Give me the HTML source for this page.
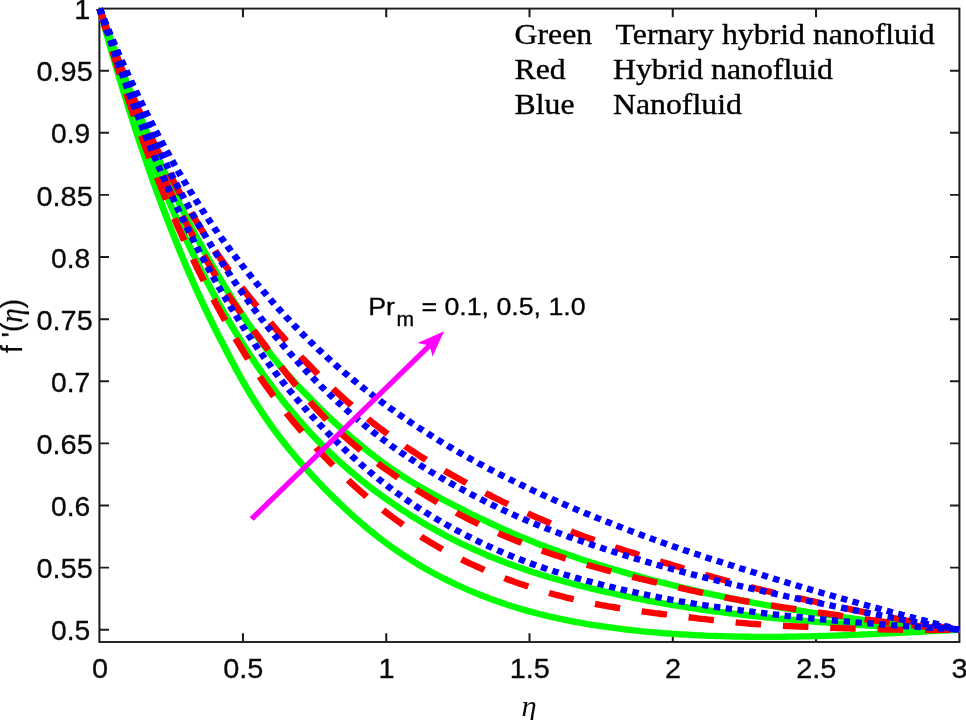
<!DOCTYPE html>
<html lang="en"><head><meta charset="utf-8"><title>f'(η) profiles</title>
<style>html,body{margin:0;padding:0;background:#fff}body{width:966px;height:720px;overflow:hidden}</style></head>
<body>
<svg width="966" height="720" viewBox="0 0 966 720" style="display:block">
<rect width="966" height="720" fill="#fff"/>
<g transform="scale(1.07,1)">
<g stroke="#1c1c1c" stroke-width="1.9" fill="none">
<rect x="92.90" y="8.6" width="803.74" height="633.4"/>
<path d="M227.07,642.0 v-8.7 M227.07,8.6 v8.7"/>
<path d="M360.97,642.0 v-8.7 M360.97,8.6 v8.7"/>
<path d="M494.86,642.0 v-8.7 M494.86,8.6 v8.7"/>
<path d="M628.75,642.0 v-8.7 M628.75,8.6 v8.7"/>
<path d="M762.65,642.0 v-8.7 M762.65,8.6 v8.7"/>
<path d="M93.18,629.7 h8.7 M896.54,629.7 h-8.7"/>
<path d="M93.18,567.6 h8.7 M896.54,567.6 h-8.7"/>
<path d="M93.18,505.5 h8.7 M896.54,505.5 h-8.7"/>
<path d="M93.18,443.4 h8.7 M896.54,443.4 h-8.7"/>
<path d="M93.18,381.3 h8.7 M896.54,381.3 h-8.7"/>
<path d="M93.18,319.2 h8.7 M896.54,319.2 h-8.7"/>
<path d="M93.18,257.0 h8.7 M896.54,257.0 h-8.7"/>
<path d="M93.18,194.9 h8.7 M896.54,194.9 h-8.7"/>
<path d="M93.18,132.8 h8.7 M896.54,132.8 h-8.7"/>
<path d="M93.18,70.7 h8.7 M896.54,70.7 h-8.7"/>
</g>
<g fill="none" stroke-linecap="butt" stroke-linejoin="round">
<path d="M93.18,8.6 L96.52,21.7 L99.87,34.5 L103.22,47.1 L106.57,59.5 L109.91,71.7 L113.26,83.6 L116.61,95.4 L119.96,106.9 L123.30,118.2 L126.65,129.3 L130.00,140.2 L133.35,150.9 L136.69,161.4 L140.04,171.8 L143.39,181.9 L146.74,191.8 L150.08,201.6 L153.43,211.1 L156.78,220.5 L160.12,229.7 L163.47,238.7 L166.82,247.6 L170.17,256.3 L173.51,264.8 L176.86,273.2 L180.21,281.4 L183.56,289.4 L186.90,297.3 L190.25,305.0 L193.60,312.6 L196.95,319.9 L200.29,327.2 L203.64,334.3 L206.99,341.3 L210.33,348.2 L213.68,355.1 L217.03,361.9 L220.38,368.6 L223.72,375.1 L227.07,381.5 L230.42,387.7 L233.77,393.7 L237.11,399.6 L240.46,405.2 L243.81,410.7 L247.16,416.1 L250.50,421.3 L253.85,426.3 L257.20,431.2 L260.55,436.0 L263.89,440.6 L267.24,445.2 L270.59,449.6 L273.93,453.9 L277.28,458.2 L280.63,462.3 L283.98,466.4 L287.32,470.3 L290.67,474.2 L294.02,478.1 L297.37,481.9 L300.71,485.6 L304.06,489.3 L307.41,492.9 L310.76,496.5 L314.10,500.0 L317.45,503.5 L320.80,506.9 L324.14,510.2 L327.49,513.5 L330.84,516.8 L334.19,519.9 L337.53,523.0 L340.88,526.1 L344.23,529.1 L347.58,532.0 L350.92,534.9 L354.27,537.7 L357.62,540.4 L360.97,543.1 L364.31,545.7 L367.66,548.3 L371.01,550.8 L374.36,553.2 L377.70,555.6 L381.05,557.9 L384.40,560.2 L387.74,562.4 L391.09,564.6 L394.44,566.7 L397.79,568.8 L401.13,570.8 L404.48,572.7 L407.83,574.7 L411.18,576.5 L414.52,578.4 L417.87,580.2 L421.22,581.9 L424.57,583.6 L427.91,585.3 L431.26,586.9 L434.61,588.5 L437.95,590.1 L441.30,591.6 L444.65,593.1 L448.00,594.5 L451.34,596.0 L454.69,597.3 L458.04,598.7 L461.39,600.0 L464.73,601.3 L468.08,602.5 L471.43,603.8 L474.78,604.9 L478.12,606.1 L481.47,607.2 L484.82,608.3 L488.17,609.4 L491.51,610.4 L494.86,611.4 L498.21,612.4 L501.55,613.3 L504.90,614.2 L508.25,615.1 L511.60,616.0 L514.94,616.8 L518.29,617.6 L521.64,618.4 L524.99,619.2 L528.33,619.9 L531.68,620.7 L535.03,621.4 L538.38,622.0 L541.72,622.7 L545.07,623.3 L548.42,623.9 L551.76,624.5 L555.11,625.1 L558.46,625.7 L561.81,626.2 L565.15,626.7 L568.50,627.2 L571.85,627.7 L575.20,628.2 L578.54,628.6 L581.89,629.1 L585.24,629.5 L588.59,629.9 L591.93,630.3 L595.28,630.7 L598.63,631.1 L601.98,631.4 L605.32,631.8 L608.67,632.1 L612.02,632.4 L615.36,632.7 L618.71,633.0 L622.06,633.3 L625.41,633.5 L628.75,633.8 L632.10,634.0 L635.45,634.3 L638.80,634.5 L642.14,634.7 L645.49,634.9 L648.84,635.1 L652.19,635.3 L655.53,635.4 L658.88,635.6 L662.23,635.8 L665.57,635.9 L668.92,636.0 L672.27,636.1 L675.62,636.2 L678.96,636.3 L682.31,636.4 L685.66,636.5 L689.01,636.6 L692.35,636.6 L695.70,636.7 L699.05,636.7 L702.40,636.8 L705.74,636.8 L709.09,636.8 L712.44,636.8 L715.79,636.8 L719.13,636.8 L722.48,636.8 L725.83,636.8 L729.17,636.8 L732.52,636.7 L735.87,636.7 L739.22,636.6 L742.56,636.6 L745.91,636.5 L749.26,636.4 L752.61,636.4 L755.95,636.3 L759.30,636.2 L762.65,636.1 L766.00,636.0 L769.34,635.9 L772.69,635.8 L776.04,635.7 L779.38,635.6 L782.73,635.5 L786.08,635.3 L789.43,635.2 L792.77,635.1 L796.12,634.9 L799.47,634.8 L802.82,634.7 L806.16,634.5 L809.51,634.4 L812.86,634.2 L816.21,634.1 L819.55,633.9 L822.90,633.7 L826.25,633.6 L829.60,633.4 L832.94,633.2 L836.29,633.1 L839.64,632.9 L842.98,632.7 L846.33,632.5 L849.68,632.4 L853.03,632.2 L856.37,632.0 L859.72,631.8 L863.07,631.6 L866.42,631.4 L869.76,631.2 L873.11,631.0 L876.46,630.9 L879.81,630.7 L883.15,630.5 L886.50,630.3 L889.85,630.1 L893.19,629.9 L896.54,629.7" stroke="#00ff00" stroke-width="6.35"/>
<path d="M93.18,8.6 L96.52,20.2 L99.87,31.6 L103.22,42.8 L106.57,53.8 L109.91,64.6 L113.26,75.3 L116.61,85.8 L119.96,96.1 L123.30,106.2 L126.65,116.1 L130.00,125.9 L133.35,135.5 L136.69,145.0 L140.04,154.2 L143.39,163.3 L146.74,172.3 L150.08,181.1 L153.43,189.7 L156.78,198.2 L160.12,206.5 L163.47,214.7 L166.82,222.7 L170.17,230.6 L173.51,238.3 L176.86,245.9 L180.21,253.4 L183.56,260.7 L186.90,267.9 L190.25,274.9 L193.60,281.9 L196.95,288.6 L200.29,295.3 L203.64,301.8 L206.99,308.2 L210.33,314.5 L213.68,320.7 L217.03,326.7 L220.38,332.7 L223.72,338.5 L227.07,344.2 L230.42,349.8 L233.77,355.3 L237.11,360.7 L240.46,366.0 L243.81,371.1 L247.16,376.2 L250.50,381.2 L253.85,386.0 L257.20,390.8 L260.55,395.5 L263.89,400.1 L267.24,404.6 L270.59,409.0 L273.93,413.3 L277.28,417.5 L280.63,421.6 L283.98,425.7 L287.32,429.6 L290.67,433.5 L294.02,437.3 L297.37,441.0 L300.71,444.7 L304.06,448.2 L307.41,451.7 L310.76,455.1 L314.10,458.5 L317.45,461.7 L320.80,465.0 L324.14,468.1 L327.49,471.2 L330.84,474.2 L334.19,477.2 L337.53,480.1 L340.88,482.9 L344.23,485.7 L347.58,488.5 L350.92,491.2 L354.27,493.8 L357.62,496.4 L360.97,499.0 L364.31,501.5 L367.66,504.0 L371.01,506.4 L374.36,508.8 L377.70,511.2 L381.05,513.5 L384.40,515.8 L387.74,518.0 L391.09,520.2 L394.44,522.4 L397.79,524.5 L401.13,526.6 L404.48,528.6 L407.83,530.6 L411.18,532.6 L414.52,534.5 L417.87,536.4 L421.22,538.3 L424.57,540.1 L427.91,541.9 L431.26,543.7 L434.61,545.4 L437.95,547.0 L441.30,548.7 L444.65,550.3 L448.00,551.9 L451.34,553.4 L454.69,555.0 L458.04,556.5 L461.39,557.9 L464.73,559.3 L468.08,560.7 L471.43,562.1 L474.78,563.5 L478.12,564.8 L481.47,566.1 L484.82,567.3 L488.17,568.6 L491.51,569.8 L494.86,571.0 L498.21,572.2 L501.55,573.3 L504.90,574.5 L508.25,575.6 L511.60,576.6 L514.94,577.7 L518.29,578.8 L521.64,579.8 L524.99,580.8 L528.33,581.8 L531.68,582.8 L535.03,583.7 L538.38,584.7 L541.72,585.6 L545.07,586.5 L548.42,587.4 L551.76,588.3 L555.11,589.1 L558.46,590.0 L561.81,590.8 L565.15,591.6 L568.50,592.4 L571.85,593.2 L575.20,594.0 L578.54,594.8 L581.89,595.6 L585.24,596.3 L588.59,597.0 L591.93,597.8 L595.28,598.5 L598.63,599.2 L601.98,599.9 L605.32,600.6 L608.67,601.2 L612.02,601.9 L615.36,602.5 L618.71,603.2 L622.06,603.8 L625.41,604.4 L628.75,605.0 L632.10,605.6 L635.45,606.2 L638.80,606.7 L642.14,607.3 L645.49,607.9 L648.84,608.4 L652.19,608.9 L655.53,609.5 L658.88,610.0 L662.23,610.5 L665.57,611.0 L668.92,611.5 L672.27,611.9 L675.62,612.4 L678.96,612.9 L682.31,613.3 L685.66,613.7 L689.01,614.2 L692.35,614.6 L695.70,615.0 L699.05,615.4 L702.40,615.8 L705.74,616.2 L709.09,616.6 L712.44,616.9 L715.79,617.3 L719.13,617.7 L722.48,618.0 L725.83,618.4 L729.17,618.7 L732.52,619.0 L735.87,619.4 L739.22,619.7 L742.56,620.0 L745.91,620.3 L749.26,620.6 L752.61,620.9 L755.95,621.2 L759.30,621.5 L762.65,621.8 L766.00,622.1 L769.34,622.4 L772.69,622.7 L776.04,622.9 L779.38,623.2 L782.73,623.5 L786.08,623.7 L789.43,624.0 L792.77,624.3 L796.12,624.5 L799.47,624.8 L802.82,625.0 L806.16,625.2 L809.51,625.5 L812.86,625.7 L816.21,625.9 L819.55,626.2 L822.90,626.4 L826.25,626.6 L829.60,626.8 L832.94,627.0 L836.29,627.2 L839.64,627.4 L842.98,627.6 L846.33,627.8 L849.68,627.9 L853.03,628.1 L856.37,628.3 L859.72,628.4 L863.07,628.6 L866.42,628.7 L869.76,628.8 L873.11,629.0 L876.46,629.1 L879.81,629.2 L883.15,629.3 L886.50,629.4 L889.85,629.5 L893.19,629.6 L896.54,629.7" stroke="#00ff00" stroke-width="6.35"/>
<path d="M93.18,8.6 L96.52,18.9 L99.87,29.0 L103.22,39.0 L106.57,48.8 L109.91,58.5 L113.26,68.0 L116.61,77.4 L119.96,86.7 L123.30,95.8 L126.65,104.7 L130.00,113.6 L133.35,122.3 L136.69,130.8 L140.04,139.2 L143.39,147.5 L146.74,155.6 L150.08,163.6 L153.43,171.5 L156.78,179.3 L160.12,186.9 L163.47,194.4 L166.82,201.8 L170.17,209.0 L173.51,216.2 L176.86,223.2 L180.21,230.1 L183.56,236.8 L186.90,243.5 L190.25,250.0 L193.60,256.5 L196.95,262.7 L200.29,268.9 L203.64,275.0 L206.99,281.0 L210.33,287.0 L213.68,292.9 L217.03,298.8 L220.38,304.5 L223.72,310.2 L227.07,315.8 L230.42,321.2 L233.77,326.5 L237.11,331.6 L240.46,336.6 L243.81,341.5 L247.16,346.3 L250.50,350.9 L253.85,355.4 L257.20,359.9 L260.55,364.2 L263.89,368.4 L267.24,372.5 L270.59,376.6 L273.93,380.6 L277.28,384.5 L280.63,388.3 L283.98,392.0 L287.32,395.7 L290.67,399.4 L294.02,403.0 L297.37,406.6 L300.71,410.1 L304.06,413.6 L307.41,417.0 L310.76,420.4 L314.10,423.7 L317.45,427.0 L320.80,430.2 L324.14,433.4 L327.49,436.6 L330.84,439.6 L334.19,442.7 L337.53,445.7 L340.88,448.6 L344.23,451.5 L347.58,454.3 L350.92,457.1 L354.27,459.8 L357.62,462.4 L360.97,465.0 L364.31,467.5 L367.66,470.0 L371.01,472.4 L374.36,474.8 L377.70,477.1 L381.05,479.4 L384.40,481.6 L387.74,483.8 L391.09,485.9 L394.44,488.0 L397.79,490.0 L401.13,492.1 L404.48,494.1 L407.83,496.0 L411.18,498.0 L414.52,499.9 L417.87,501.8 L421.22,503.6 L424.57,505.5 L427.91,507.3 L431.26,509.1 L434.61,510.9 L437.95,512.7 L441.30,514.5 L444.65,516.2 L448.00,518.0 L451.34,519.7 L454.69,521.4 L458.04,523.1 L461.39,524.8 L464.73,526.4 L468.08,528.1 L471.43,529.7 L474.78,531.3 L478.12,532.9 L481.47,534.4 L484.82,535.9 L488.17,537.4 L491.51,538.9 L494.86,540.4 L498.21,541.8 L501.55,543.3 L504.90,544.7 L508.25,546.0 L511.60,547.4 L514.94,548.7 L518.29,550.0 L521.64,551.3 L524.99,552.6 L528.33,553.8 L531.68,555.1 L535.03,556.3 L538.38,557.5 L541.72,558.7 L545.07,559.9 L548.42,561.0 L551.76,562.2 L555.11,563.3 L558.46,564.4 L561.81,565.5 L565.15,566.6 L568.50,567.7 L571.85,568.7 L575.20,569.8 L578.54,570.8 L581.89,571.9 L585.24,572.9 L588.59,573.9 L591.93,574.9 L595.28,575.9 L598.63,576.9 L601.98,577.8 L605.32,578.8 L608.67,579.7 L612.02,580.7 L615.36,581.6 L618.71,582.5 L622.06,583.4 L625.41,584.3 L628.75,585.2 L632.10,586.1 L635.45,587.0 L638.80,587.8 L642.14,588.7 L645.49,589.5 L648.84,590.3 L652.19,591.2 L655.53,592.0 L658.88,592.8 L662.23,593.6 L665.57,594.4 L668.92,595.1 L672.27,595.9 L675.62,596.7 L678.96,597.4 L682.31,598.2 L685.66,598.9 L689.01,599.6 L692.35,600.3 L695.70,601.0 L699.05,601.7 L702.40,602.4 L705.74,603.0 L709.09,603.7 L712.44,604.3 L715.79,605.0 L719.13,605.6 L722.48,606.2 L725.83,606.9 L729.17,607.5 L732.52,608.1 L735.87,608.7 L739.22,609.3 L742.56,609.8 L745.91,610.4 L749.26,611.0 L752.61,611.5 L755.95,612.1 L759.30,612.7 L762.65,613.2 L766.00,613.7 L769.34,614.3 L772.69,614.8 L776.04,615.3 L779.38,615.9 L782.73,616.4 L786.08,616.9 L789.43,617.4 L792.77,617.9 L796.12,618.4 L799.47,618.9 L802.82,619.4 L806.16,619.9 L809.51,620.3 L812.86,620.8 L816.21,621.2 L819.55,621.7 L822.90,622.1 L826.25,622.6 L829.60,623.0 L832.94,623.4 L836.29,623.8 L839.64,624.2 L842.98,624.6 L846.33,625.0 L849.68,625.4 L853.03,625.8 L856.37,626.1 L859.72,626.5 L863.07,626.8 L866.42,627.2 L869.76,627.5 L873.11,627.8 L876.46,628.1 L879.81,628.4 L883.15,628.7 L886.50,628.9 L889.85,629.2 L893.19,629.5 L896.54,629.7" stroke="#00ff00" stroke-width="6.35"/>
<path d="M93.18,8.6 L96.52,20.7 L99.87,32.6 L103.22,44.3 L106.57,55.8 L109.91,67.0 L113.26,78.0 L116.61,88.8 L119.96,99.3 L123.30,109.7 L126.65,119.9 L130.00,129.9 L133.35,139.6 L136.69,149.2 L140.04,158.7 L143.39,167.9 L146.74,176.9 L150.08,185.8 L153.43,194.6 L156.78,203.1 L160.12,211.5 L163.47,219.7 L166.82,227.8 L170.17,235.8 L173.51,243.6 L176.86,251.2 L180.21,258.7 L183.56,266.1 L186.90,273.3 L190.25,280.4 L193.60,287.3 L196.95,294.1 L200.29,300.8 L203.64,307.4 L206.99,313.9 L210.33,320.3 L213.68,326.6 L217.03,332.8 L220.38,338.9 L223.72,344.9 L227.07,350.8 L230.42,356.6 L233.77,362.2 L237.11,367.7 L240.46,373.1 L243.81,378.4 L247.16,383.6 L250.50,388.6 L253.85,393.6 L257.20,398.4 L260.55,403.2 L263.89,407.8 L267.24,412.4 L270.59,416.9 L273.93,421.3 L277.28,425.6 L280.63,429.8 L283.98,433.9 L287.32,438.0 L290.67,442.0 L294.02,446.0 L297.37,449.9 L300.71,453.7 L304.06,457.5 L307.41,461.2 L310.76,464.8 L314.10,468.4 L317.45,472.0 L320.80,475.4 L324.14,478.8 L327.49,482.2 L330.84,485.5 L334.19,488.7 L337.53,491.9 L340.88,495.0 L344.23,498.1 L347.58,501.1 L350.92,504.0 L354.27,506.9 L357.62,509.7 L360.97,512.5 L364.31,515.2 L367.66,517.9 L371.01,520.5 L374.36,523.1 L377.70,525.6 L381.05,528.0 L384.40,530.4 L387.74,532.8 L391.09,535.1 L394.44,537.3 L397.79,539.5 L401.13,541.7 L404.48,543.8 L407.83,545.9 L411.18,547.9 L414.52,549.9 L417.87,551.9 L421.22,553.8 L424.57,555.7 L427.91,557.5 L431.26,559.3 L434.61,561.1 L437.95,562.8 L441.30,564.5 L444.65,566.1 L448.00,567.7 L451.34,569.3 L454.69,570.9 L458.04,572.4 L461.39,573.9 L464.73,575.3 L468.08,576.8 L471.43,578.1 L474.78,579.5 L478.12,580.8 L481.47,582.1 L484.82,583.4 L488.17,584.6 L491.51,585.8 L494.86,587.0 L498.21,588.1 L501.55,589.3 L504.90,590.4 L508.25,591.4 L511.60,592.5 L514.94,593.5 L518.29,594.5 L521.64,595.4 L524.99,596.3 L528.33,597.3 L531.68,598.1 L535.03,599.0 L538.38,599.8 L541.72,600.6 L545.07,601.4 L548.42,602.2 L551.76,602.9 L555.11,603.6 L558.46,604.3 L561.81,605.0 L565.15,605.6 L568.50,606.3 L571.85,606.9 L575.20,607.5 L578.54,608.1 L581.89,608.6 L585.24,609.1 L588.59,609.7 L591.93,610.2 L595.28,610.7 L598.63,611.2 L601.98,611.7 L605.32,612.1 L608.67,612.6 L612.02,613.1 L615.36,613.5 L618.71,614.0 L622.06,614.4 L625.41,614.9 L628.75,615.3 L632.10,615.7 L635.45,616.2 L638.80,616.6 L642.14,617.1 L645.49,617.5 L648.84,617.9 L652.19,618.4 L655.53,618.8 L658.88,619.2 L662.23,619.6 L665.57,620.0 L668.92,620.4 L672.27,620.8 L675.62,621.2 L678.96,621.5 L682.31,621.9 L685.66,622.2 L689.01,622.6 L692.35,622.9 L695.70,623.2 L699.05,623.5 L702.40,623.8 L705.74,624.0 L709.09,624.3 L712.44,624.5 L715.79,624.8 L719.13,625.0 L722.48,625.2 L725.83,625.4 L729.17,625.6 L732.52,625.8 L735.87,626.0 L739.22,626.1 L742.56,626.3 L745.91,626.5 L749.26,626.6 L752.61,626.8 L755.95,626.9 L759.30,627.1 L762.65,627.2 L766.00,627.3 L769.34,627.5 L772.69,627.6 L776.04,627.8 L779.38,627.9 L782.73,628.0 L786.08,628.2 L789.43,628.3 L792.77,628.4 L796.12,628.5 L799.47,628.6 L802.82,628.7 L806.16,628.9 L809.51,629.0 L812.86,629.1 L816.21,629.2 L819.55,629.3 L822.90,629.3 L826.25,629.4 L829.60,629.5 L832.94,629.6 L836.29,629.6 L839.64,629.7 L842.98,629.8 L846.33,629.8 L849.68,629.8 L853.03,629.9 L856.37,629.9 L859.72,629.9 L863.07,630.0 L866.42,630.0 L869.76,630.0 L873.11,630.0 L876.46,629.9 L879.81,629.9 L883.15,629.9 L886.50,629.9 L889.85,629.8 L893.19,629.8 L896.54,629.7" stroke="#ff0000" stroke-width="6.35" stroke-dasharray="23.85 20.43" stroke-dashoffset="0"/>
<path d="M93.18,8.6 L96.52,19.9 L99.87,31.0 L103.22,41.8 L106.57,52.4 L109.91,62.7 L113.26,72.8 L116.61,82.7 L119.96,92.4 L123.30,101.8 L126.65,111.1 L130.00,120.1 L133.35,129.0 L136.69,137.7 L140.04,146.2 L143.39,154.5 L146.74,162.7 L150.08,170.7 L153.43,178.5 L156.78,186.2 L160.12,193.7 L163.47,201.1 L166.82,208.3 L170.17,215.4 L173.51,222.3 L176.86,229.1 L180.21,235.8 L183.56,242.3 L186.90,248.8 L190.25,255.1 L193.60,261.3 L196.95,267.5 L200.29,273.5 L203.64,279.4 L206.99,285.2 L210.33,290.7 L213.68,296.0 L217.03,301.1 L220.38,306.1 L223.72,311.0 L227.07,315.9 L230.42,320.8 L233.77,325.6 L237.11,330.5 L240.46,335.3 L243.81,340.1 L247.16,344.9 L250.50,349.7 L253.85,354.4 L257.20,359.2 L260.55,363.8 L263.89,368.4 L267.24,373.0 L270.59,377.5 L273.93,381.9 L277.28,386.3 L280.63,390.6 L283.98,394.8 L287.32,399.0 L290.67,403.0 L294.02,407.0 L297.37,410.9 L300.71,414.6 L304.06,418.3 L307.41,421.9 L310.76,425.4 L314.10,428.8 L317.45,432.1 L320.80,435.4 L324.14,438.5 L327.49,441.7 L330.84,444.7 L334.19,447.7 L337.53,450.6 L340.88,453.4 L344.23,456.2 L347.58,459.0 L350.92,461.7 L354.27,464.3 L357.62,466.9 L360.97,469.5 L364.31,472.0 L367.66,474.5 L371.01,477.0 L374.36,479.4 L377.70,481.8 L381.05,484.1 L384.40,486.4 L387.74,488.7 L391.09,491.0 L394.44,493.2 L397.79,495.4 L401.13,497.5 L404.48,499.6 L407.83,501.7 L411.18,503.8 L414.52,505.8 L417.87,507.8 L421.22,509.8 L424.57,511.7 L427.91,513.6 L431.26,515.5 L434.61,517.3 L437.95,519.2 L441.30,521.0 L444.65,522.7 L448.00,524.5 L451.34,526.2 L454.69,527.9 L458.04,529.5 L461.39,531.1 L464.73,532.8 L468.08,534.3 L471.43,535.9 L474.78,537.4 L478.12,538.9 L481.47,540.4 L484.82,541.8 L488.17,543.2 L491.51,544.6 L494.86,546.0 L498.21,547.3 L501.55,548.7 L504.90,549.9 L508.25,551.2 L511.60,552.5 L514.94,553.7 L518.29,554.9 L521.64,556.1 L524.99,557.2 L528.33,558.4 L531.68,559.5 L535.03,560.6 L538.38,561.7 L541.72,562.7 L545.07,563.8 L548.42,564.8 L551.76,565.8 L555.11,566.8 L558.46,567.8 L561.81,568.8 L565.15,569.8 L568.50,570.7 L571.85,571.7 L575.20,572.6 L578.54,573.5 L581.89,574.4 L585.24,575.3 L588.59,576.2 L591.93,577.1 L595.28,578.0 L598.63,578.8 L601.98,579.7 L605.32,580.5 L608.67,581.4 L612.02,582.2 L615.36,583.0 L618.71,583.9 L622.06,584.7 L625.41,585.5 L628.75,586.3 L632.10,587.1 L635.45,587.9 L638.80,588.7 L642.14,589.5 L645.49,590.3 L648.84,591.0 L652.19,591.8 L655.53,592.6 L658.88,593.3 L662.23,594.1 L665.57,594.8 L668.92,595.5 L672.27,596.3 L675.62,597.0 L678.96,597.7 L682.31,598.4 L685.66,599.0 L689.01,599.7 L692.35,600.4 L695.70,601.0 L699.05,601.6 L702.40,602.2 L705.74,602.9 L709.09,603.4 L712.44,604.0 L715.79,604.6 L719.13,605.2 L722.48,605.7 L725.83,606.3 L729.17,606.8 L732.52,607.4 L735.87,607.9 L739.22,608.4 L742.56,609.0 L745.91,609.5 L749.26,610.0 L752.61,610.5 L755.95,611.1 L759.30,611.6 L762.65,612.1 L766.00,612.6 L769.34,613.1 L772.69,613.7 L776.04,614.2 L779.38,614.7 L782.73,615.2 L786.08,615.8 L789.43,616.3 L792.77,616.8 L796.12,617.3 L799.47,617.9 L802.82,618.4 L806.16,618.9 L809.51,619.4 L812.86,619.9 L816.21,620.4 L819.55,620.9 L822.90,621.3 L826.25,621.8 L829.60,622.3 L832.94,622.8 L836.29,623.2 L839.64,623.7 L842.98,624.1 L846.33,624.5 L849.68,625.0 L853.03,625.4 L856.37,625.8 L859.72,626.2 L863.07,626.6 L866.42,626.9 L869.76,627.3 L873.11,627.6 L876.46,628.0 L879.81,628.3 L883.15,628.6 L886.50,628.9 L889.85,629.2 L893.19,629.4 L896.54,629.7" stroke="#ff0000" stroke-width="6.35" stroke-dasharray="23.85 20.43" stroke-dashoffset="0"/>
<path d="M93.18,8.6 L96.52,19.0 L99.87,29.2 L103.22,39.2 L106.57,48.9 L109.91,58.4 L113.26,67.6 L116.61,76.6 L119.96,85.5 L123.30,94.1 L126.65,102.6 L130.00,110.8 L133.35,118.9 L136.69,126.8 L140.04,134.5 L143.39,142.0 L146.74,149.4 L150.08,156.7 L153.43,163.8 L156.78,170.7 L160.12,177.5 L163.47,184.2 L166.82,190.7 L170.17,197.1 L173.51,203.4 L176.86,209.5 L180.21,215.6 L183.56,221.5 L186.90,227.3 L190.25,233.0 L193.60,238.6 L196.95,244.1 L200.29,249.5 L203.64,254.8 L206.99,260.0 L210.33,265.1 L213.68,270.1 L217.03,274.9 L220.38,279.7 L223.72,284.4 L227.07,289.0 L230.42,293.6 L233.77,298.1 L237.11,302.5 L240.46,306.9 L243.81,311.3 L247.16,315.6 L250.50,319.9 L253.85,324.1 L257.20,328.3 L260.55,332.4 L263.89,336.4 L267.24,340.5 L270.59,344.4 L273.93,348.3 L277.28,352.2 L280.63,356.0 L283.98,359.8 L287.32,363.5 L290.67,367.2 L294.02,370.8 L297.37,374.4 L300.71,377.9 L304.06,381.4 L307.41,384.8 L310.76,388.2 L314.10,391.5 L317.45,394.8 L320.80,398.0 L324.14,401.2 L327.49,404.3 L330.84,407.4 L334.19,410.4 L337.53,413.4 L340.88,416.3 L344.23,419.2 L347.58,422.1 L350.92,424.9 L354.27,427.6 L357.62,430.3 L360.97,433.0 L364.31,435.6 L367.66,438.2 L371.01,440.7 L374.36,443.2 L377.70,445.6 L381.05,448.0 L384.40,450.4 L387.74,452.7 L391.09,455.0 L394.44,457.3 L397.79,459.5 L401.13,461.7 L404.48,463.9 L407.83,466.0 L411.18,468.1 L414.52,470.2 L417.87,472.3 L421.22,474.3 L424.57,476.3 L427.91,478.3 L431.26,480.3 L434.61,482.2 L437.95,484.2 L441.30,486.1 L444.65,488.0 L448.00,489.9 L451.34,491.7 L454.69,493.6 L458.04,495.4 L461.39,497.2 L464.73,499.0 L468.08,500.8 L471.43,502.5 L474.78,504.2 L478.12,506.0 L481.47,507.6 L484.82,509.3 L488.17,511.0 L491.51,512.6 L494.86,514.2 L498.21,515.8 L501.55,517.4 L504.90,518.9 L508.25,520.4 L511.60,522.0 L514.94,523.5 L518.29,524.9 L521.64,526.4 L524.99,527.8 L528.33,529.2 L531.68,530.6 L535.03,532.0 L538.38,533.4 L541.72,534.7 L545.07,536.1 L548.42,537.4 L551.76,538.7 L555.11,540.0 L558.46,541.2 L561.81,542.5 L565.15,543.7 L568.50,545.0 L571.85,546.2 L575.20,547.4 L578.54,548.5 L581.89,549.7 L585.24,550.9 L588.59,552.0 L591.93,553.1 L595.28,554.3 L598.63,555.4 L601.98,556.5 L605.32,557.6 L608.67,558.7 L612.02,559.8 L615.36,560.9 L618.71,562.0 L622.06,563.0 L625.41,564.1 L628.75,565.2 L632.10,566.3 L635.45,567.3 L638.80,568.4 L642.14,569.5 L645.49,570.6 L648.84,571.6 L652.19,572.7 L655.53,573.7 L658.88,574.8 L662.23,575.8 L665.57,576.8 L668.92,577.8 L672.27,578.8 L675.62,579.8 L678.96,580.8 L682.31,581.8 L685.66,582.8 L689.01,583.7 L692.35,584.7 L695.70,585.6 L699.05,586.5 L702.40,587.4 L705.74,588.3 L709.09,589.2 L712.44,590.0 L715.79,590.9 L719.13,591.7 L722.48,592.5 L725.83,593.4 L729.17,594.2 L732.52,595.0 L735.87,595.8 L739.22,596.6 L742.56,597.4 L745.91,598.1 L749.26,598.9 L752.61,599.7 L755.95,600.5 L759.30,601.2 L762.65,602.0 L766.00,602.8 L769.34,603.5 L772.69,604.3 L776.04,605.1 L779.38,605.8 L782.73,606.6 L786.08,607.4 L789.43,608.1 L792.77,608.9 L796.12,609.6 L799.47,610.4 L802.82,611.2 L806.16,611.9 L809.51,612.6 L812.86,613.4 L816.21,614.1 L819.55,614.8 L822.90,615.6 L826.25,616.3 L829.60,617.0 L832.94,617.7 L836.29,618.4 L839.64,619.1 L842.98,619.8 L846.33,620.5 L849.68,621.2 L853.03,621.8 L856.37,622.5 L859.72,623.1 L863.07,623.8 L866.42,624.4 L869.76,625.0 L873.11,625.7 L876.46,626.3 L879.81,626.9 L883.15,627.5 L886.50,628.0 L889.85,628.6 L893.19,629.2 L896.54,629.7" stroke="#ff0000" stroke-width="6.35" stroke-dasharray="23.85 20.43" stroke-dashoffset="0"/>
<path d="M93.18,8.6 L96.52,19.5 L99.87,30.3 L103.22,40.9 L106.57,51.2 L109.91,61.5 L113.26,71.5 L116.61,81.3 L119.96,91.0 L123.30,100.5 L126.65,109.9 L130.00,119.0 L133.35,128.1 L136.69,136.9 L140.04,145.6 L143.39,154.2 L146.74,162.6 L150.08,170.9 L153.43,179.0 L156.78,187.0 L160.12,194.8 L163.47,202.5 L166.82,210.1 L170.17,217.6 L173.51,224.9 L176.86,232.1 L180.21,239.2 L183.56,246.1 L186.90,252.9 L190.25,259.7 L193.60,266.2 L196.95,272.7 L200.29,279.1 L203.64,285.3 L206.99,291.5 L210.33,297.6 L213.68,303.5 L217.03,309.4 L220.38,315.2 L223.72,320.9 L227.07,326.5 L230.42,332.0 L233.77,337.4 L237.11,342.6 L240.46,347.8 L243.81,352.9 L247.16,357.9 L250.50,362.8 L253.85,367.6 L257.20,372.3 L260.55,376.9 L263.89,381.5 L267.24,385.9 L270.59,390.3 L273.93,394.6 L277.28,398.9 L280.63,403.0 L283.98,407.1 L287.32,411.1 L290.67,415.1 L294.02,419.0 L297.37,422.8 L300.71,426.6 L304.06,430.3 L307.41,434.0 L310.76,437.6 L314.10,441.2 L317.45,444.7 L320.80,448.1 L324.14,451.5 L327.49,454.8 L330.84,458.1 L334.19,461.3 L337.53,464.4 L340.88,467.5 L344.23,470.6 L347.58,473.6 L350.92,476.5 L354.27,479.4 L357.62,482.2 L360.97,485.0 L364.31,487.7 L367.66,490.4 L371.01,493.0 L374.36,495.6 L377.70,498.1 L381.05,500.6 L384.40,503.1 L387.74,505.5 L391.09,507.8 L394.44,510.1 L397.79,512.4 L401.13,514.6 L404.48,516.8 L407.83,518.9 L411.18,521.0 L414.52,523.1 L417.87,525.1 L421.22,527.1 L424.57,529.1 L427.91,531.0 L431.26,532.9 L434.61,534.8 L437.95,536.6 L441.30,538.4 L444.65,540.2 L448.00,541.9 L451.34,543.6 L454.69,545.3 L458.04,546.9 L461.39,548.5 L464.73,550.1 L468.08,551.6 L471.43,553.2 L474.78,554.7 L478.12,556.1 L481.47,557.6 L484.82,559.0 L488.17,560.3 L491.51,561.7 L494.86,563.0 L498.21,564.3 L501.55,565.6 L504.90,566.8 L508.25,568.0 L511.60,569.2 L514.94,570.3 L518.29,571.5 L521.64,572.6 L524.99,573.7 L528.33,574.8 L531.68,575.8 L535.03,576.8 L538.38,577.9 L541.72,578.9 L545.07,579.8 L548.42,580.8 L551.76,581.7 L555.11,582.7 L558.46,583.6 L561.81,584.5 L565.15,585.4 L568.50,586.3 L571.85,587.1 L575.20,588.0 L578.54,588.8 L581.89,589.7 L585.24,590.5 L588.59,591.3 L591.93,592.1 L595.28,592.9 L598.63,593.7 L601.98,594.4 L605.32,595.2 L608.67,595.9 L612.02,596.6 L615.36,597.3 L618.71,598.0 L622.06,598.7 L625.41,599.3 L628.75,600.0 L632.10,600.6 L635.45,601.3 L638.80,601.9 L642.14,602.5 L645.49,603.1 L648.84,603.7 L652.19,604.2 L655.53,604.8 L658.88,605.3 L662.23,605.9 L665.57,606.4 L668.92,606.9 L672.27,607.4 L675.62,607.9 L678.96,608.4 L682.31,608.9 L685.66,609.4 L689.01,609.9 L692.35,610.3 L695.70,610.8 L699.05,611.3 L702.40,611.7 L705.74,612.1 L709.09,612.6 L712.44,613.0 L715.79,613.4 L719.13,613.9 L722.48,614.3 L725.83,614.7 L729.17,615.1 L732.52,615.5 L735.87,615.9 L739.22,616.3 L742.56,616.6 L745.91,617.0 L749.26,617.4 L752.61,617.7 L755.95,618.1 L759.30,618.5 L762.65,618.8 L766.00,619.1 L769.34,619.5 L772.69,619.8 L776.04,620.1 L779.38,620.5 L782.73,620.8 L786.08,621.1 L789.43,621.4 L792.77,621.7 L796.12,622.0 L799.47,622.3 L802.82,622.6 L806.16,622.9 L809.51,623.2 L812.86,623.4 L816.21,623.7 L819.55,624.0 L822.90,624.3 L826.25,624.5 L829.60,624.8 L832.94,625.1 L836.29,625.3 L839.64,625.6 L842.98,625.8 L846.33,626.1 L849.68,626.3 L853.03,626.6 L856.37,626.8 L859.72,627.1 L863.07,627.3 L866.42,627.6 L869.76,627.8 L873.11,628.0 L876.46,628.3 L879.81,628.5 L883.15,628.8 L886.50,629.0 L889.85,629.2 L893.19,629.5 L896.54,629.7" stroke="#0000ff" stroke-width="6.35" stroke-dasharray="6.0 5.1"/>
<path d="M93.18,8.6 L96.52,18.3 L99.87,27.7 L103.22,37.1 L106.57,46.3 L109.91,55.3 L113.26,64.2 L116.61,72.9 L119.96,81.5 L123.30,90.0 L126.65,98.3 L130.00,106.5 L133.35,114.6 L136.69,122.5 L140.04,130.3 L143.39,137.9 L146.74,145.5 L150.08,152.9 L153.43,160.2 L156.78,167.3 L160.12,174.4 L163.47,181.3 L166.82,188.2 L170.17,194.9 L173.51,201.5 L176.86,208.0 L180.21,214.4 L183.56,220.7 L186.90,226.9 L190.25,233.0 L193.60,239.0 L196.95,244.8 L200.29,250.6 L203.64,256.3 L206.99,261.9 L210.33,267.5 L213.68,272.9 L217.03,278.3 L220.38,283.5 L223.72,288.7 L227.07,293.8 L230.42,298.8 L233.77,303.7 L237.11,308.6 L240.46,313.3 L243.81,318.0 L247.16,322.6 L250.50,327.2 L253.85,331.6 L257.20,336.0 L260.55,340.3 L263.89,344.5 L267.24,348.7 L270.59,352.8 L273.93,356.8 L277.28,360.8 L280.63,364.7 L283.98,368.5 L287.32,372.3 L290.67,376.0 L294.02,379.7 L297.37,383.3 L300.71,386.9 L304.06,390.4 L307.41,393.8 L310.76,397.2 L314.10,400.5 L317.45,403.8 L320.80,407.0 L324.14,410.2 L327.49,413.4 L330.84,416.4 L334.19,419.5 L337.53,422.5 L340.88,425.4 L344.23,428.3 L347.58,431.1 L350.92,433.9 L354.27,436.6 L357.62,439.3 L360.97,442.0 L364.31,444.6 L367.66,447.2 L371.01,449.7 L374.36,452.2 L377.70,454.6 L381.05,457.0 L384.40,459.4 L387.74,461.7 L391.09,464.0 L394.44,466.3 L397.79,468.5 L401.13,470.7 L404.48,472.9 L407.83,475.0 L411.18,477.1 L414.52,479.2 L417.87,481.2 L421.22,483.2 L424.57,485.2 L427.91,487.2 L431.26,489.1 L434.61,491.1 L437.95,493.0 L441.30,494.8 L444.65,496.7 L448.00,498.5 L451.34,500.3 L454.69,502.1 L458.04,503.9 L461.39,505.6 L464.73,507.3 L468.08,509.0 L471.43,510.7 L474.78,512.3 L478.12,513.9 L481.47,515.5 L484.82,517.1 L488.17,518.7 L491.51,520.2 L494.86,521.7 L498.21,523.2 L501.55,524.6 L504.90,526.1 L508.25,527.5 L511.60,528.9 L514.94,530.3 L518.29,531.6 L521.64,532.9 L524.99,534.3 L528.33,535.6 L531.68,536.9 L535.03,538.1 L538.38,539.4 L541.72,540.6 L545.07,541.8 L548.42,543.1 L551.76,544.3 L555.11,545.5 L558.46,546.6 L561.81,547.8 L565.15,549.0 L568.50,550.1 L571.85,551.3 L575.20,552.4 L578.54,553.5 L581.89,554.6 L585.24,555.7 L588.59,556.8 L591.93,557.9 L595.28,559.0 L598.63,560.0 L601.98,561.1 L605.32,562.1 L608.67,563.2 L612.02,564.2 L615.36,565.2 L618.71,566.2 L622.06,567.2 L625.41,568.2 L628.75,569.2 L632.10,570.2 L635.45,571.1 L638.80,572.1 L642.14,573.0 L645.49,574.0 L648.84,574.9 L652.19,575.8 L655.53,576.7 L658.88,577.6 L662.23,578.5 L665.57,579.4 L668.92,580.2 L672.27,581.1 L675.62,582.0 L678.96,582.8 L682.31,583.7 L685.66,584.5 L689.01,585.3 L692.35,586.2 L695.70,587.0 L699.05,587.8 L702.40,588.6 L705.74,589.4 L709.09,590.2 L712.44,591.0 L715.79,591.8 L719.13,592.6 L722.48,593.4 L725.83,594.2 L729.17,594.9 L732.52,595.7 L735.87,596.5 L739.22,597.2 L742.56,598.0 L745.91,598.8 L749.26,599.5 L752.61,600.3 L755.95,601.0 L759.30,601.8 L762.65,602.5 L766.00,603.2 L769.34,604.0 L772.69,604.7 L776.04,605.4 L779.38,606.2 L782.73,606.9 L786.08,607.6 L789.43,608.4 L792.77,609.1 L796.12,609.8 L799.47,610.5 L802.82,611.2 L806.16,611.9 L809.51,612.6 L812.86,613.3 L816.21,614.0 L819.55,614.7 L822.90,615.4 L826.25,616.1 L829.60,616.8 L832.94,617.5 L836.29,618.2 L839.64,618.8 L842.98,619.5 L846.33,620.2 L849.68,620.8 L853.03,621.5 L856.37,622.2 L859.72,622.8 L863.07,623.5 L866.42,624.1 L869.76,624.7 L873.11,625.4 L876.46,626.0 L879.81,626.6 L883.15,627.3 L886.50,627.9 L889.85,628.5 L893.19,629.1 L896.54,629.7" stroke="#0000ff" stroke-width="6.35" stroke-dasharray="6.0 5.1"/>
<path d="M93.18,8.6 L96.52,17.5 L99.87,26.2 L103.22,34.8 L106.57,43.2 L109.91,51.5 L113.26,59.6 L116.61,67.6 L119.96,75.4 L123.30,83.1 L126.65,90.7 L130.00,98.1 L133.35,105.4 L136.69,112.5 L140.04,119.6 L143.39,126.5 L146.74,133.3 L150.08,140.0 L153.43,146.6 L156.78,153.0 L160.12,159.4 L163.47,165.6 L166.82,171.7 L170.17,177.8 L173.51,183.7 L176.86,189.6 L180.21,195.3 L183.56,200.9 L186.90,206.5 L190.25,212.0 L193.60,217.4 L196.95,222.7 L200.29,227.9 L203.64,233.0 L206.99,238.1 L210.33,243.0 L213.68,247.9 L217.03,252.6 L220.38,257.3 L223.72,261.9 L227.07,266.5 L230.42,271.0 L233.77,275.4 L237.11,279.8 L240.46,284.1 L243.81,288.4 L247.16,292.6 L250.50,296.8 L253.85,300.9 L257.20,304.9 L260.55,308.9 L263.89,312.8 L267.24,316.7 L270.59,320.5 L273.93,324.3 L277.28,328.0 L280.63,331.7 L283.98,335.3 L287.32,338.8 L290.67,342.3 L294.02,345.8 L297.37,349.2 L300.71,352.5 L304.06,355.8 L307.41,359.1 L310.76,362.3 L314.10,365.4 L317.45,368.6 L320.80,371.6 L324.14,374.6 L327.49,377.6 L330.84,380.5 L334.19,383.4 L337.53,386.3 L340.88,389.1 L344.23,391.9 L347.58,394.6 L350.92,397.4 L354.27,400.0 L357.62,402.7 L360.97,405.3 L364.31,407.9 L367.66,410.4 L371.01,413.0 L374.36,415.5 L377.70,417.9 L381.05,420.4 L384.40,422.8 L387.74,425.2 L391.09,427.5 L394.44,429.8 L397.79,432.1 L401.13,434.4 L404.48,436.7 L407.83,438.9 L411.18,441.1 L414.52,443.3 L417.87,445.4 L421.22,447.5 L424.57,449.6 L427.91,451.7 L431.26,453.8 L434.61,455.8 L437.95,457.8 L441.30,459.8 L444.65,461.7 L448.00,463.7 L451.34,465.6 L454.69,467.5 L458.04,469.4 L461.39,471.2 L464.73,473.1 L468.08,474.9 L471.43,476.7 L474.78,478.5 L478.12,480.2 L481.47,482.0 L484.82,483.7 L488.17,485.4 L491.51,487.1 L494.86,488.8 L498.21,490.5 L501.55,492.1 L504.90,493.7 L508.25,495.4 L511.60,497.0 L514.94,498.5 L518.29,500.1 L521.64,501.7 L524.99,503.2 L528.33,504.8 L531.68,506.3 L535.03,507.8 L538.38,509.3 L541.72,510.8 L545.07,512.3 L548.42,513.7 L551.76,515.2 L555.11,516.6 L558.46,518.1 L561.81,519.5 L565.15,520.9 L568.50,522.3 L571.85,523.7 L575.20,525.1 L578.54,526.5 L581.89,527.9 L585.24,529.3 L588.59,530.6 L591.93,532.0 L595.28,533.3 L598.63,534.6 L601.98,536.0 L605.32,537.3 L608.67,538.6 L612.02,539.9 L615.36,541.2 L618.71,542.4 L622.06,543.7 L625.41,545.0 L628.75,546.2 L632.10,547.4 L635.45,548.7 L638.80,549.9 L642.14,551.1 L645.49,552.3 L648.84,553.5 L652.19,554.6 L655.53,555.8 L658.88,557.0 L662.23,558.2 L665.57,559.3 L668.92,560.5 L672.27,561.6 L675.62,562.7 L678.96,563.9 L682.31,565.0 L685.66,566.1 L689.01,567.3 L692.35,568.4 L695.70,569.5 L699.05,570.6 L702.40,571.7 L705.74,572.8 L709.09,574.0 L712.44,575.1 L715.79,576.2 L719.13,577.3 L722.48,578.4 L725.83,579.5 L729.17,580.5 L732.52,581.6 L735.87,582.7 L739.22,583.8 L742.56,584.9 L745.91,585.9 L749.26,587.0 L752.61,588.1 L755.95,589.1 L759.30,590.2 L762.65,591.2 L766.00,592.2 L769.34,593.3 L772.69,594.3 L776.04,595.3 L779.38,596.3 L782.73,597.3 L786.08,598.3 L789.43,599.3 L792.77,600.3 L796.12,601.3 L799.47,602.3 L802.82,603.3 L806.16,604.3 L809.51,605.2 L812.86,606.2 L816.21,607.2 L819.55,608.1 L822.90,609.1 L826.25,610.0 L829.60,611.0 L832.94,612.0 L836.29,612.9 L839.64,613.8 L842.98,614.8 L846.33,615.7 L849.68,616.7 L853.03,617.6 L856.37,618.5 L859.72,619.5 L863.07,620.4 L866.42,621.3 L869.76,622.3 L873.11,623.2 L876.46,624.1 L879.81,625.1 L883.15,626.0 L886.50,626.9 L889.85,627.8 L893.19,628.8 L896.54,629.7" stroke="#0000ff" stroke-width="6.35" stroke-dasharray="6.0 5.1"/>
</g>
<path d="M235.2,519.0 L401.5,345.4" stroke="#ff00ff" stroke-width="5.1" fill="none"/>
<path d="M415.0,331.3 L404.3,356.6 L401.5,345.4 L390.2,343.0 Z" fill="#ff00ff"/>
</g>
<g font-family="Liberation Sans, Arial, Helvetica, sans-serif" font-size="27" fill="#0a0a0a" stroke="#0a0a0a" stroke-width="0.3">
<text transform="translate(100.0,678.3) scale(1.07,1)" text-anchor="middle" >0</text>
<text transform="translate(243.3,678.3) scale(1.07,1)" text-anchor="middle" >0.5</text>
<text transform="translate(386.5,678.3) scale(1.07,1)" text-anchor="middle" >1</text>
<text transform="translate(529.8,678.3) scale(1.07,1)" text-anchor="middle" >1.5</text>
<text transform="translate(673.1,678.3) scale(1.07,1)" text-anchor="middle" >2</text>
<text transform="translate(816.3,678.3) scale(1.07,1)" text-anchor="middle" >2.5</text>
<text transform="translate(959.6,678.3) scale(1.07,1)" text-anchor="middle" >3</text>
<text transform="translate(90.3,640.2) scale(1.045,1)" text-anchor="end" >0.5</text>
<text transform="translate(92.7,578.1) scale(1.07,1)" text-anchor="end" >0.55</text>
<text transform="translate(90.3,516.0) scale(1.045,1)" text-anchor="end" >0.6</text>
<text transform="translate(92.7,453.9) scale(1.07,1)" text-anchor="end" >0.65</text>
<text transform="translate(90.3,391.8) scale(1.045,1)" text-anchor="end" >0.7</text>
<text transform="translate(92.7,329.7) scale(1.07,1)" text-anchor="end" >0.75</text>
<text transform="translate(90.3,267.6) scale(1.045,1)" text-anchor="end" >0.8</text>
<text transform="translate(92.7,205.5) scale(1.07,1)" text-anchor="end" >0.85</text>
<text transform="translate(90.3,143.4) scale(1.045,1)" text-anchor="end" >0.9</text>
<text transform="translate(92.7,81.3) scale(1.07,1)" text-anchor="end" >0.95</text>
<text transform="translate(90.4,19.1) scale(1.07,1)" text-anchor="end" >1</text>
</g>
<text transform="translate(368.2,315.0) scale(1.082,1)" text-anchor="start" font-family="Liberation Sans, Arial, Helvetica, sans-serif" font-size="24.7" fill="#000" stroke="#000" stroke-width="0.3">Pr<tspan font-size="19.5" dy="10.7" dx="1.4">m</tspan><tspan dy="-10.7"> = 0.1, 0.5, 1.0</tspan></text>
<g font-family="Liberation Serif, Times New Roman, serif" font-size="30" fill="#000" stroke="#000" stroke-width="0.35">
<text transform="translate(514.5,44.0) scale(1.06,1)" text-anchor="start" >Green</text><text transform="translate(615.6,44.0) scale(1.06,1)" text-anchor="start" >Ternary hybrid nanofluid</text>
<text transform="translate(514.5,78.8) scale(1.06,1)" text-anchor="start" >Red</text><text transform="translate(613.0,78.8) scale(1.06,1)" text-anchor="start" >Hybrid nanofluid</text>
<text transform="translate(514.5,113.6) scale(1.06,1)" text-anchor="start" >Blue</text><text transform="translate(613.0,113.6) scale(1.06,1)" text-anchor="start" >Nanofluid</text>
</g>
<text transform="translate(529.0,715.6) scale(1.05,1)" text-anchor="middle" font-family="Liberation Serif, Times New Roman, serif" font-style="italic" font-size="29" fill="#0a0a0a">η</text>
<text transform="translate(22,326) rotate(-90) scale(1.0,1.07)" text-anchor="middle" font-family="Liberation Sans, Arial, Helvetica, sans-serif" font-size="28" fill="#0a0a0a" stroke="#0a0a0a" stroke-width="0.25">f '(<tspan font-family="Liberation Serif, Times New Roman, serif" font-style="italic" font-size="29">η</tspan>)</text>
</svg>
</body></html>
